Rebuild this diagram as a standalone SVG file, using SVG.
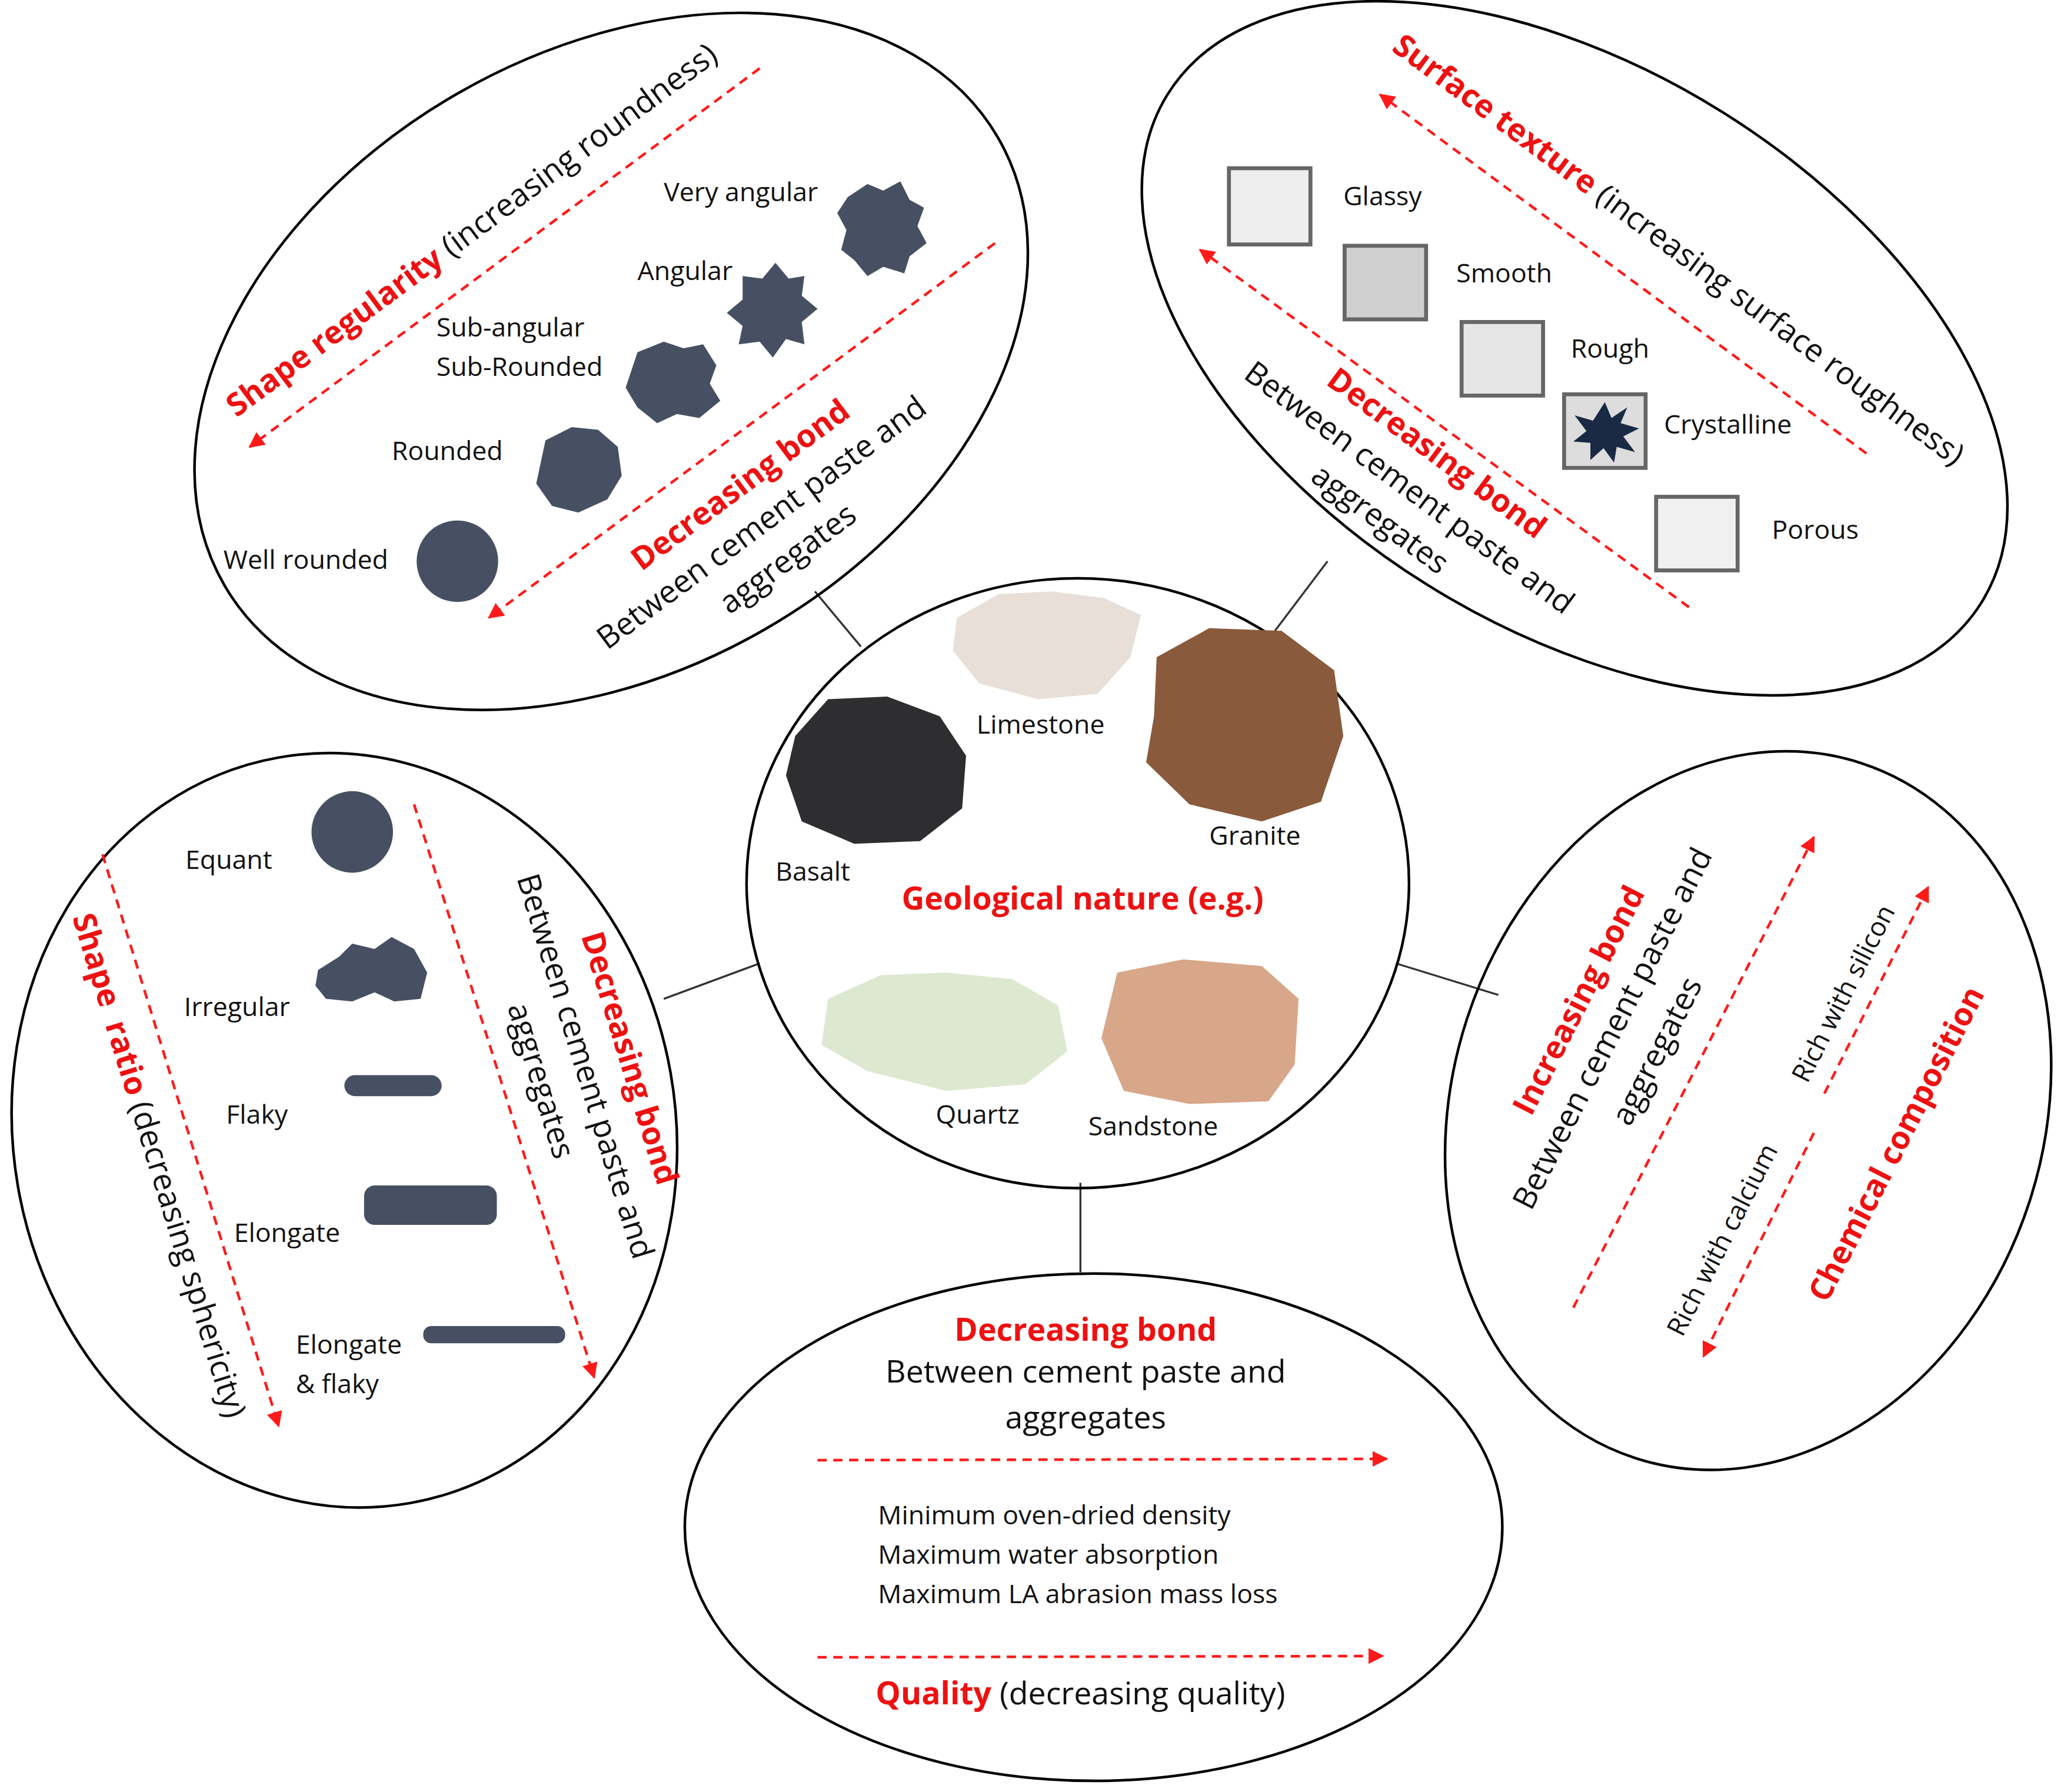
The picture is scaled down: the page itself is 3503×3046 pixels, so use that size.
<svg xmlns="http://www.w3.org/2000/svg" width="3503" height="3046" viewBox="0 0 3503 3046">
<defs>
<style>
.el{fill:none;stroke:#000;stroke-width:2}
.ln{stroke:#333;stroke-width:1.5}
.da{stroke:#ff1a1a;stroke-width:2;stroke-dasharray:7 5;fill:none;marker-end:url(#ah)}
text{font-family:"Open Sans","DejaVu Sans",sans-serif;fill:#111}
.s{font-size:20px}
.m{font-size:24px}
.r{fill:#ee1111;font-weight:bold}
.b{fill:#465062}
.sq{stroke:#666;stroke-width:3}
</style>
<marker id="ah" viewBox="0 0 10 10" refX="9" refY="5" markerWidth="6" markerHeight="6" orient="auto"><path d="M0,0L10,5L0,10z" fill="#ff1a1a"/></marker>
</defs>
<rect width="3503" height="3046" fill="#fff"/>
<g transform="scale(2.234)">
<g id="connectors">
<line class="ln" x1="620" y1="450" x2="655" y2="492"/>
<line class="ln" x1="1010" y1="427" x2="970" y2="480"/>
<line class="ln" x1="505" y1="760" x2="578" y2="733"/>
<line class="ln" x1="1062" y1="733" x2="1140" y2="757"/>
<line class="ln" x1="822" y1="900" x2="822" y2="968"/>
</g>
<g id="shape-regularity">
<ellipse class="el" cx="465" cy="275" rx="340" ry="235" transform="rotate(-30 465 275)"/>
<path class="da" d="M578,52L190,340"/>
<path class="da" d="M757,185L372,470"/>
<text class="m" transform="translate(180,318) rotate(-36.6)"><tspan class="r">Shape regularity</tspan> (increasing roundness)</text>
<text class="m" transform="translate(488,435) rotate(-36.6)"><tspan class="r">Decreasing bond</tspan></text>
<text class="m" transform="translate(462,495) rotate(-36.6)">Between cement paste and</text>
<text class="m" transform="translate(555,468) rotate(-36.6)">aggregates</text>
<text class="s" x="505" y="153">Very angular</text>
<text class="s" x="485" y="213">Angular</text>
<text class="s" x="332" y="256">Sub-angular</text>
<text class="s" x="332" y="286">Sub-Rounded</text>
<text class="s" x="298" y="350">Rounded</text>
<text class="s" x="170" y="433">Well rounded</text>
<path class="b" d="M645,150L660,140L672,145L685,138L692,152L703,158L698,172L705,185L692,195L688,208L672,203L660,210L650,198L640,190L644,175L637,162z"/>
<path class="b" d="M565,210L580,212L590,200L600,212L612,210L610,225L622,235L610,245L612,262L598,258L588,272L578,260L562,262L565,248L553,238L565,228z"/>
<path class="b" d="M485,268L505,260L520,265L535,262L545,278L540,292L548,305L532,318L515,315L500,322L485,310L476,295z"/>
<path class="b" d="M415,335L435,325L455,327L470,340L473,362L462,380L440,390L420,385L408,368z"/>
<circle class="b" cx="348" cy="427" r="31"/>
</g>
<g id="surface-texture">
<ellipse class="el" cx="1198" cy="265" rx="365" ry="212" transform="rotate(32 1198 265)"/>
<path class="da" d="M1420,345L1050,72"/>
<path class="da" d="M1285,462L913,190"/>
<text class="m" transform="translate(1058,38) rotate(36.5)"><tspan class="r">Surface texture</tspan> (increasing surface roughness)</text>
<text class="m" transform="translate(1008,292) rotate(36.5)"><tspan class="r">Decreasing bond</tspan></text>
<text class="m" transform="translate(945,287) rotate(36.5)">Between cement paste and</text>
<text class="m" transform="translate(996,365) rotate(36.5)">aggregates</text>
<rect class="sq" x="935" y="128" width="62" height="58" fill="#eee"/>
<rect class="sq" x="1023" y="187" width="62" height="56" fill="#cfcfcf"/>
<rect class="sq" x="1112" y="245" width="62" height="56" fill="#e6e6e6"/>
<rect class="sq" x="1190" y="300" width="62" height="56" fill="#ddd"/>
<path fill="#1a2a45" d="M1221,306L1226,318L1238,310L1233,322L1247,326L1235,332L1244,344L1230,340L1228,352L1220,341L1210,350L1210,337L1197,336L1207,328L1198,316L1212,320z"/>
<rect class="sq" x="1260" y="378" width="62" height="56" fill="#f0f0f0"/>
<text class="s" x="1022" y="156">Glassy</text>
<text class="s" x="1108" y="215">Smooth</text>
<text class="s" x="1195" y="272">Rough</text>
<text class="s" x="1266" y="330">Crystalline</text>
<text class="s" x="1348" y="410">Porous</text>
</g>
<g id="geological-nature">
<ellipse class="el" cx="820" cy="672" rx="252" ry="232"/>
<path fill="#e8e0d8" d="M728,470L760,452L800,450L840,455L868,468L860,500L835,528L790,532L745,520L725,495z"/>
<path fill="#2e2e30" d="M605,560L630,532L675,530L715,545L735,575L732,615L700,640L650,642L610,625L598,590z"/>
<path fill="#8a5a3c" d="M880,500L920,478L975,480L1015,510L1022,560L1005,610L960,625L905,612L872,580L878,545z"/>
<path fill="#dde8d0" d="M630,760L670,742L720,740L770,745L805,765L812,800L780,825L720,830L660,815L625,795z"/>
<path fill="#d8a688" d="M850,740L900,730L960,735L988,760L985,810L965,838L905,840L855,830L838,790z"/>
<text class="s" x="743" y="558">Limestone</text>
<text class="s" x="590" y="670">Basalt</text>
<text class="s" x="920" y="643">Granite</text>
<text class="m r" x="686" y="692">Geological nature (e.g.)</text>
<text class="s" x="712" y="855">Quartz</text>
<text class="s" x="828" y="864">Sandstone</text>
</g>
<g id="shape-ratio">
<ellipse class="el" cx="262" cy="860" rx="252" ry="288" transform="rotate(-10 262 860)"/>
<path class="da" d="M78,650L212,1085"/>
<path class="da" d="M315,612L452,1048"/>
<text class="m" transform="translate(55,698) rotate(73)" xml:space="preserve"><tspan class="r">Shape  ratio</tspan> (decreasing sphericity)</text>
<text class="m" transform="translate(442,712) rotate(73)"><tspan class="r">Decreasing bond</tspan></text>
<text class="m" transform="translate(393,668) rotate(73)">Between cement paste and</text>
<text class="m" transform="translate(386,766) rotate(73)">aggregates</text>
<circle class="b" cx="268" cy="633" r="31"/>
<path class="b" d="M242,738L258,728L268,718L285,722L298,713L315,722L325,740L320,760L300,762L285,755L268,762L248,760L240,750z"/>
<rect class="b" x="262" y="818" width="74" height="16" rx="8"/>
<rect class="b" x="277" y="902" width="101" height="30" rx="8"/>
<rect class="b" x="322" y="1009" width="108" height="13" rx="6"/>
<text class="s" x="141" y="661">Equant</text>
<text class="s" x="140" y="773">Irregular</text>
<text class="s" x="172" y="855">Flaky</text>
<text class="s" x="178" y="945">Elongate</text>
<text class="s" x="225" y="1030">Elongate</text>
<text class="s" x="225" y="1060">&amp; flaky</text>
</g>
<g id="chemical-composition">
<ellipse class="el" cx="1330" cy="845" rx="225" ry="278" transform="rotate(18 1330 845)"/>
<path class="da" d="M1197,995L1380,637"/>
<path class="da" d="M1388,832L1467,675"/>
<path class="da" d="M1380,862L1296,1032"/>
<text class="m" transform="translate(1165,850) rotate(-63)"><tspan class="r">Increasing bond</tspan></text>
<text class="m" transform="translate(1165,922) rotate(-63)">Between cement paste and</text>
<text class="m" transform="translate(1240,858) rotate(-63)">aggregates</text>
<text class="s" transform="translate(1375,825) rotate(-63)">Rich with silicon</text>
<text class="s" transform="translate(1280,1018) rotate(-63)">Rich with calcium</text>
<text class="m r" transform="translate(1390,992) rotate(-63)">Chemical composition</text>
</g>
<g id="quality">
<ellipse class="el" cx="832" cy="1162" rx="311" ry="193"/>
<text class="m r" x="826" y="1020" text-anchor="middle">Decreasing bond</text>
<text class="m" x="826" y="1052" text-anchor="middle">Between cement paste and</text>
<text class="m" x="826" y="1087" text-anchor="middle">aggregates</text>
<path class="da" d="M622,1111L1055,1110"/>
<text class="s" x="668" y="1160">Minimum oven-dried density</text>
<text class="s" x="668" y="1190">Maximum water absorption</text>
<text class="s" x="668" y="1220">Maximum LA abrasion mass loss</text>
<path class="da" d="M622,1261L1052,1260"/>
<text class="m" x="822" y="1297" text-anchor="middle"><tspan class="r">Quality</tspan> (decreasing quality)</text>
</g>
</g>
</svg>
